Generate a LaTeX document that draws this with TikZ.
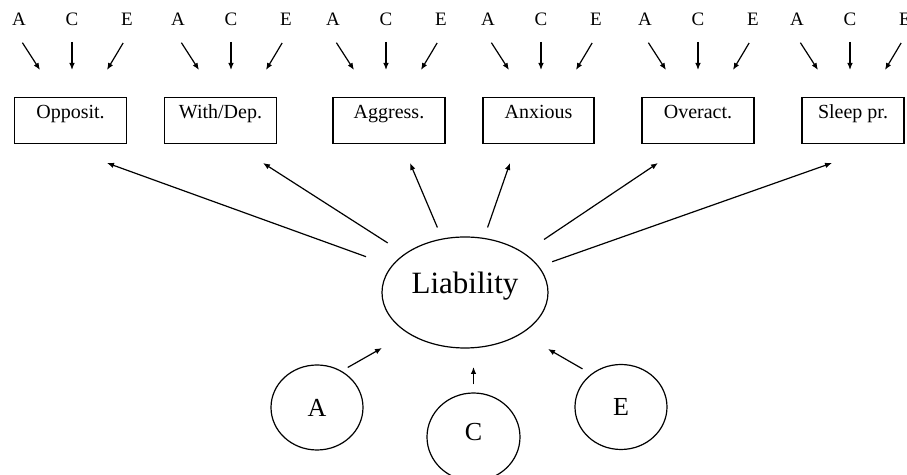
\documentclass[tikz,border=0pt]{standalone}
\usepackage{fontspec}
\setmainfont{Liberation Serif}
\usetikzlibrary{shapes.geometric, arrows.meta, calc}

\begin{document}
\begin{tikzpicture}[x=0.5pt, y=-0.5pt, line width=0.6pt,
        arr/.style={-{Latex[length=3.5pt,width=2.8pt]}},
        facet/.style={draw, rectangle, inner sep=0pt, anchor=north, minimum width=56pt,
            text height=10.5pt, text depth=12.5pt, font=\fontsize{10}{12}\selectfont},
        letter/.style={inner sep=0pt, font=\fontsize{9.5}{11}\selectfont},
        factor/.style={draw, ellipse, inner sep=0pt, minimum width=46pt, minimum height=42.5pt,
            font=\fontsize{13}{15}\selectfont}]
        \useasboundingbox (0,0) rectangle (907,475);

        % the six problem scales
        \node[facet] (opp) at (70.5,97) {Opposit.};
        \node[facet] (wdep) at (220.5,97) {With/Dep.};
        \node[facet] (aggr) at (389,97) {Aggress.};
        \node[facet, minimum width=55.5pt] (anx) at (538.5,97) {Anxious};
        \node[facet] (overa) at (698,97) {Overact.};
        \node[facet, minimum width=51pt] (sleep) at (853,97) {Sleep pr.};

        % specific A, C, E above each scale
        \foreach \g/\a in {1/19, 2/178, 3/333, 4/488, 5/645, 6/797} {
            \node[letter] (a\g) at (\a,19) {A};
            \node[letter] (c\g) at (\a+53,19) {C};
            \node[letter] (e\g) at (\a+108,19) {E};
            \coordinate (ta\g) at (\a+21,70);
            \coordinate (tc\g) at (\a+53,70);
            \coordinate (te\g) at (\a+88,70);
            \path[arr]
                (a\g.south west) edge[shorten <=10pt] (ta\g)
                (c\g.south) edge[shorten <=8pt] (tc\g)
                (e\g.south east) edge[shorten <=10pt] (te\g);
        }

        % common liability and its factors
        \node[draw, ellipse, inner sep=0pt, minimum width=83pt, minimum height=55.5pt,
            text depth=10pt, font=\fontsize{15.5}{18}\selectfont] (lia) at (465,292.5) {Liability};
        \node[factor] (fa) at (317,407.5) {A};
        \node[factor, minimum width=46.5pt, minimum height=44pt, text depth=5.5pt] (fc) at (473.5,437) {C};
        \node[factor] (fe) at (621,407) {E};

        \coordinate (t1) at (107,163);
        \coordinate (t2) at (263,163);
        \coordinate (t3) at (410,163);
        \coordinate (t4) at (510,163);
        \coordinate (t5) at (658,163);
        \coordinate (t6) at (832,163);
        \coordinate (ua) at (382,348);
        \coordinate (uc) at (473.5,367);
        \coordinate (ue) at (548,349);

        \path[arr]
            (lia) edge[shorten <=13.5pt] (t1)
            (lia) edge[shorten <=10pt] (t2)
            (lia) edge[shorten <=6pt] (t3)
            (lia) edge[shorten <=5.5pt] (t4)
            (lia) edge[shorten <=12pt] (t5)
            (lia) edge[shorten <=7pt] (t6)
            (fa.56) edge[shorten <=3.5pt] (ua)
            (fc) edge[shorten <=4pt] (uc)
            (fe.132) edge[shorten <=5pt] (ue)
            ;
    \end{tikzpicture}
\end{document}
